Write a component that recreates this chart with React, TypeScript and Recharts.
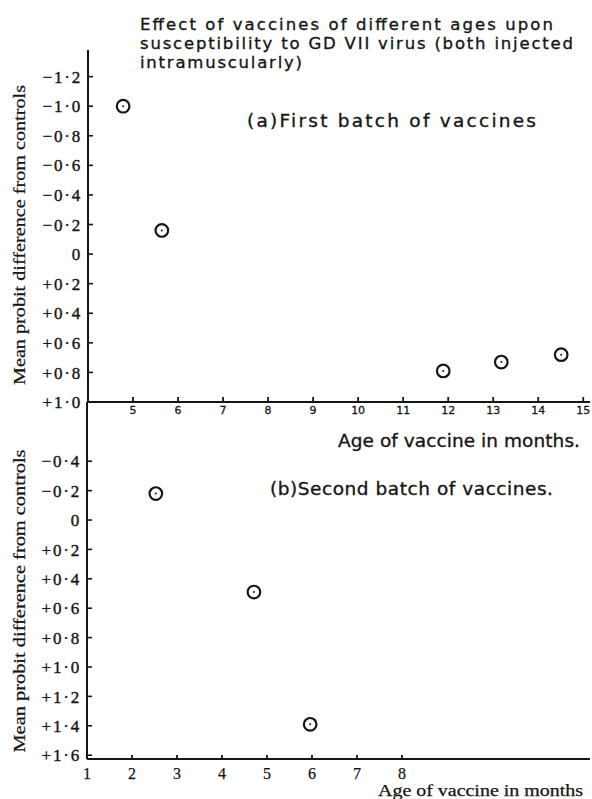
import React from 'react';
import { ScatterChart, Scatter, XAxis, YAxis } from 'recharts';

// (a) first batch of vaccine
const batchAAge = [4.78, 5.64, 11.89, 13.18, 14.51];
const batchADiff = [-1.0, -0.16, 0.79, 0.73, 0.68];

// (b) second batch of vaccines
const batchBAge = [2.53, 4.71, 5.96];
const batchBDiff = [-0.18, 0.49, 1.39];

const topXTicks = [5, 6, 7, 8, 9, 10, 11, 12, 13, 14, 15];
const topYTicks = [-1.2, -1.0, -0.8, -0.6, -0.4, -0.2, 0, 0.2, 0.4, 0.6, 0.8, 1.0];
const bottomXTicks = [1, 2, 3, 4, 5, 6, 7, 8];
const bottomYTicks = [-0.4, -0.2, 0, 0.2, 0.4, 0.6, 0.8, 1.0, 1.2, 1.4, 1.6];

const INK = '#161616';
const SERIF = '"Liberation Serif", "DejaVu Serif", serif';
const SANS = '"DejaVu Sans", "Open Sans", sans-serif';

const topData = batchAAge.map((age, i) => ({ age, diff: batchADiff[i] }));
const bottomData = batchBAge.map((age, i) => ({ age, diff: batchBDiff[i] }));

function fmtY(v: number) {
  if (Math.abs(v) < 1e-9) return '0';
  const s = Math.abs(v).toFixed(1).replace('.', '·');
  return (v < 0 ? '−' : '+') + s;
}

function YTick(props: any) {
  const { x, y, payload } = props;
  return (
    <g>
      <line x1={x} x2={x + 5} y1={y} y2={y} stroke={INK} strokeWidth={1.6} />
      <text
        x={x - 6}
        y={y}
        dy="0.36em"
        textAnchor="end"
        fill={INK}
        stroke={INK}
        strokeWidth={0.4}
        style={{ fontFamily: SERIF, fontSize: 17, letterSpacing: 1.8 }}
      >
        {fmtY(payload.value)}
      </text>
    </g>
  );
}

function TopXTick(props: any) {
  const { x, y, payload } = props;
  return (
    <g>
      <line x1={x} x2={x} y1={y} y2={y - 5} stroke={INK} strokeWidth={1.8} />
      <text
        x={x}
        y={y + 12}
        textAnchor="middle"
        fill={INK}
        stroke={INK}
        strokeWidth={0.3}
        style={{ fontFamily: SANS, fontSize: 11 }}
      >
        {payload.value}
      </text>
    </g>
  );
}

function BottomXTick(props: any) {
  const { x, y, payload } = props;
  return (
    <g>
      <line x1={x} x2={x} y1={y} y2={y - 4} stroke={INK} strokeWidth={1.8} />
      <text
        x={x}
        y={y + 20}
        textAnchor="middle"
        fill={INK}
        stroke={INK}
        strokeWidth={0.25}
        style={{ fontFamily: SERIF, fontSize: 16 }}
      >
        {payload.value}
      </text>
    </g>
  );
}

function Ring(props: any) {
  const { cx, cy } = props;
  return (
    <g>
      <circle cx={cx} cy={cy} r={6.3} fill="#fff" stroke={INK} strokeWidth={2.2} />
      <circle cx={cx} cy={cy} r={1} fill={INK} />
    </g>
  );
}

const axisLine = { stroke: INK, strokeWidth: 2 };

const handText = {
  fontFamily: SANS,
  fontSize: 16.5,
  fill: INK,
  stroke: INK,
  strokeWidth: 0.35,
};

export default function App() {
  return (
    <div
      style={{
        position: 'absolute',
        left: 0,
        top: 0,
        width: 592,
        height: 799,
        background: '#fff',
        overflow: 'hidden',
      }}
    >
      <div style={{ position: 'absolute', left: 0, top: 0 }}>
        <ScatterChart width={592} height={420} margin={{ top: 50, right: 2, bottom: 0, left: 0 }}>
          <XAxis
            type="number"
            dataKey="age"
            domain={[4, 15.15]}
            allowDataOverflow
            ticks={topXTicks}
            interval={0}
            height={18}
            tickSize={0}
            tickMargin={0}
            tickLine={false}
            axisLine={axisLine}
            tick={<TopXTick />}
          />
          <YAxis
            type="number"
            dataKey="diff"
            domain={[-1.38, 1.0]}
            allowDataOverflow
            reversed
            ticks={topYTicks}
            interval={0}
            width={88}
            tickSize={0}
            tickMargin={0}
            tickLine={false}
            axisLine={axisLine}
            tick={<YTick />}
          />
          <Scatter data={topData} shape={<Ring />} isAnimationActive={false} />
        </ScatterChart>
      </div>

      <div style={{ position: 'absolute', left: 0, top: 402 }}>
        <ScatterChart width={592} height={397} margin={{ top: 0, right: 2, bottom: 0, left: 0 }}>
          <XAxis
            type="number"
            dataKey="age"
            domain={[1, 12.18]}
            allowDataOverflow
            ticks={bottomXTicks}
            interval={0}
            height={40}
            tickSize={0}
            tickMargin={0}
            tickLine={false}
            axisLine={axisLine}
            tick={<BottomXTick />}
          />
          <YAxis
            type="number"
            dataKey="diff"
            domain={[-0.803, 1.626]}
            allowDataOverflow
            reversed
            ticks={bottomYTicks}
            interval={0}
            width={87}
            tickSize={0}
            tickMargin={0}
            tickLine={false}
            axisLine={axisLine}
            tick={<YTick />}
          />
          <Scatter data={bottomData} shape={<Ring />} isAnimationActive={false} />
        </ScatterChart>
      </div>

      <svg
        width={592}
        height={799}
        style={{ position: 'absolute', left: 0, top: 0, pointerEvents: 'none' }}
      >
        <g style={handText}>
          <text x={140} y={30} textLength={413} lengthAdjust="spacing">
            Effect of vaccines of different ages upon
          </text>
          <text x={140} y={49} textLength={433} lengthAdjust="spacing">
            susceptibility to GD VII virus (both injected
          </text>
          <text x={140} y={68} textLength={162} lengthAdjust="spacing">
            intramuscularly)
          </text>
          <text x={247} y={127} textLength={289} lengthAdjust="spacing" style={{ fontSize: 18.5 }}>
            (a)First batch of vaccines
          </text>
          <text x={338} y={447} textLength={242} lengthAdjust="spacing" style={{ fontSize: 18.5 }}>
            Age of vaccine in months.
          </text>
          <text x={270} y={495} textLength={283} lengthAdjust="spacing" style={{ fontSize: 18.5 }}>
            (b)Second batch of vaccines.
          </text>
        </g>
        <g style={{ fontFamily: SERIF, fontSize: 17, fill: INK, stroke: INK, strokeWidth: 0.25 }}>
          <text
            x={25}
            y={235}
            textAnchor="middle"
            transform="rotate(-90 25 235)"
            textLength={300}
            lengthAdjust="spacingAndGlyphs"
          >
            Mean probit difference from controls
          </text>
          <text
            x={25}
            y={601}
            textAnchor="middle"
            transform="rotate(-90 25 601)"
            textLength={303}
            lengthAdjust="spacingAndGlyphs"
          >
            Mean probit difference from controls
          </text>
          <text x={378} y={796} textLength={205} lengthAdjust="spacingAndGlyphs" style={{ fontSize: 16 }}>
            Age of vaccine in months
          </text>
        </g>
      </svg>
    </div>
  );
}
